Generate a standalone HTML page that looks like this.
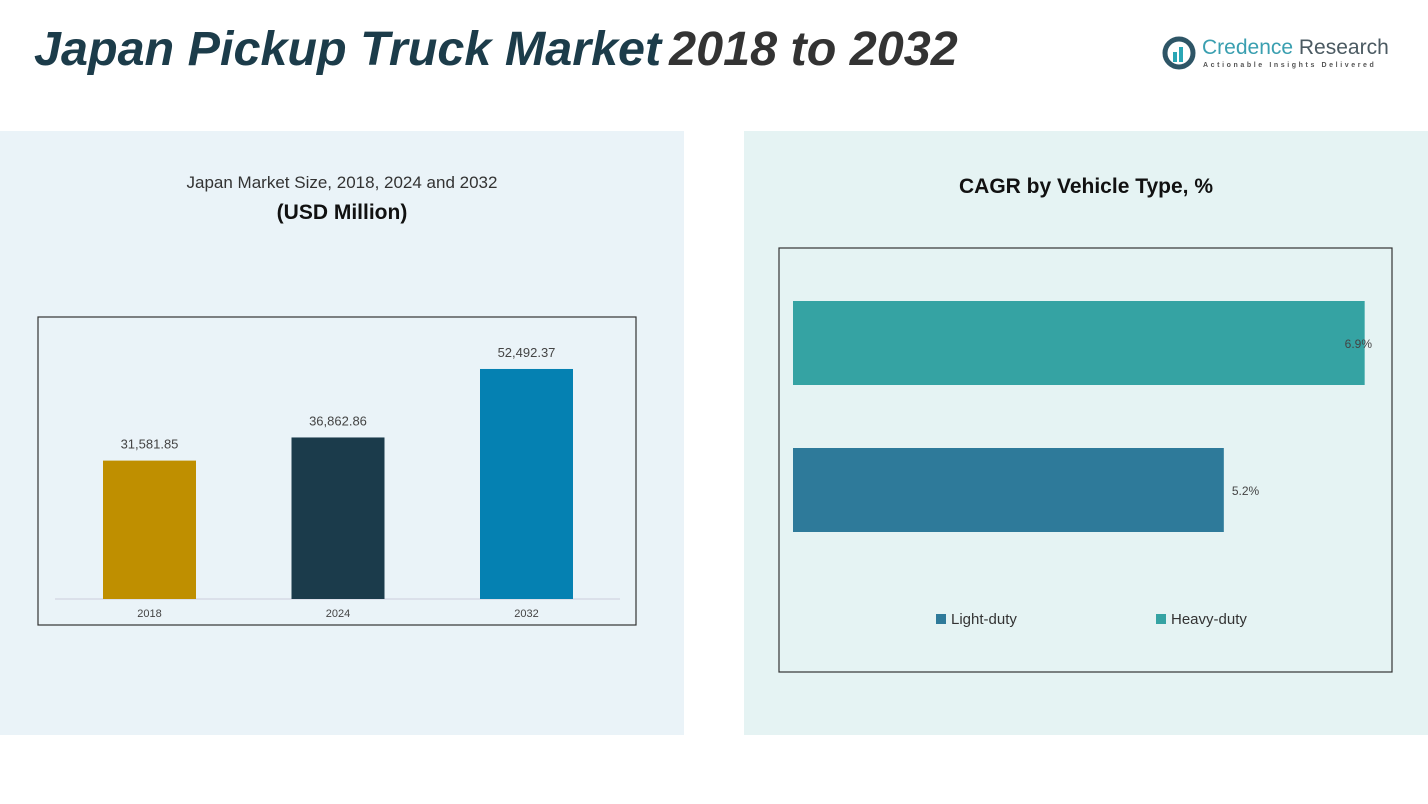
<!DOCTYPE html>
<html><head><meta charset="utf-8"><style>
body{margin:0;width:1428px;height:804px;background:#fff;position:relative;overflow:hidden;font-family:"Liberation Sans",sans-serif}
.abs{position:absolute}
</style></head><body>
<div class="abs" style="left:0;top:131px;width:684px;height:604px;background:#eaf3f8"></div>
<div class="abs" style="left:744px;top:131px;width:684px;height:604px;background:#e5f3f3"></div>
<div class="abs" style="left:34px;top:21px;font-size:48.5px;font-weight:bold;font-style:italic;color:#1c3c4a;white-space:nowrap">Japan Pickup Truck Market<span style="color:#333;margin-left:8px">2018 to 2032</span></div>
<div class="abs" style="left:1162px;top:36px;width:236px;height:40px">
<svg width="36" height="36" style="position:absolute;left:0;top:0"><circle cx="17" cy="17" r="14" fill="none" stroke="#2e5566" stroke-width="5"/><rect x="11" y="16" width="4" height="10" fill="#2aa6b5"/><rect x="17" y="11" width="4" height="15" fill="#2aa6b5"/></svg>
<div class="abs" style="left:40px;top:0;font-size:21px;color:#3a9fb0;white-space:nowrap">Credence <span style="color:#4b5a62">Research</span></div>
<div class="abs" style="left:41px;top:26px;font-size:7px;letter-spacing:2.6px;color:#555;white-space:nowrap;font-weight:bold">Actionable Insights Delivered</div>
</div>
<div class="abs" style="left:0;top:173px;width:684px;text-align:center;font-size:17px;color:#333">Japan Market Size, 2018, 2024 and 2032</div>
<div class="abs" style="left:0;top:201px;width:684px;text-align:center;font-size:21px;font-weight:bold;color:#111">(USD Million)</div>
<div class="abs" style="left:744px;top:175px;width:684px;text-align:center;font-size:21px;font-weight:bold;color:#111">CAGR by Vehicle Type, %</div>
<svg class="abs" style="left:0;top:0" width="1428" height="804" id="charts">
<rect x="38" y="317" width="598" height="308" fill="none" stroke="#333" stroke-width="1.2"/>
<line x1="55" y1="599" x2="620" y2="599" stroke="#ccd" stroke-width="1"/>
<rect x="779" y="248" width="613" height="424" fill="none" stroke="#333" stroke-width="1.2"/>
<g id="g1"></g><g id="g2"></g>
<rect x="936" y="614" width="10" height="10" fill="#2e7a9a"/>
<text x="951" y="624" font-size="15" fill="#333">Light-duty</text>
<rect x="1156" y="614" width="10" height="10" fill="#35a3a3"/>
<text x="1171" y="624" font-size="15" fill="#333">Heavy-duty</text>
</svg>
<script>
const years=["2018","2024","2032"];
const sizes=[31581.85,36862.86,52492.37];
const sizeLabels=["31,581.85","36,862.86","52,492.37"];
const types=["Heavy-duty","Light-duty"];
const cagr=[6.9,5.2];
const ns="http://www.w3.org/2000/svg";
const colors=["#bf8f00","#1b3b4b","#0581b2"];
function yS(v){return 599-v*0.004382;}
function xC(i){return 149.5+i*188.5;}
const g1=document.getElementById('g1');
years.forEach((y,i)=>{
 const r=document.createElementNS(ns,'rect');
 r.setAttribute('x',xC(i)-46.5);r.setAttribute('y',yS(sizes[i]));r.setAttribute('width',93);r.setAttribute('height',599-yS(sizes[i]));r.setAttribute('fill',colors[i]);
 
 
 g1.appendChild(r);
 const t=document.createElementNS(ns,'text');
 t.setAttribute('x',xC(i));t.setAttribute('y',yS(sizes[i])-12);t.setAttribute('text-anchor','middle');t.setAttribute('font-size','13');t.setAttribute('fill','#444');t.textContent=sizeLabels[i];
 
 
 g1.appendChild(t);
 const l=document.createElementNS(ns,'text');
 l.setAttribute('x',xC(i));l.setAttribute('y',617);l.setAttribute('text-anchor','middle');l.setAttribute('font-size','11');l.setAttribute('fill','#444');l.textContent=y;
 
 
 g1.appendChild(l);
});
function xH(v){return 793+v*82.85;}
const hc=["#35a3a3","#2e7a9a"];
const g2=document.getElementById('g2');
types.forEach((n,i)=>{
 const y=301+i*147;
 const r=document.createElementNS(ns,'rect');
 r.setAttribute('x',793);r.setAttribute('y',y);r.setAttribute('width',xH(cagr[i])-793);r.setAttribute('height',84);r.setAttribute('fill',hc[i]);
 
 
 g2.appendChild(r);
 const t=document.createElementNS(ns,'text');
 t.setAttribute('x',xH(cagr[i])+(i==0?-20:8));t.setAttribute('y',y+47);t.setAttribute('font-size','12');t.setAttribute('fill','#444');t.textContent=cagr[i]+'%';
 
 
 g2.appendChild(t);
});
</script>
</body></html>
